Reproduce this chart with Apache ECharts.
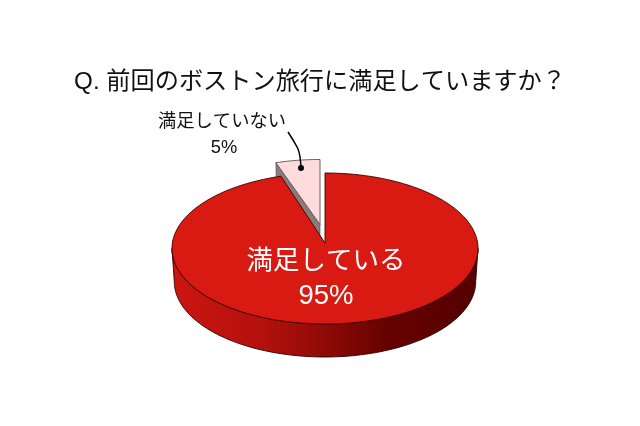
<!DOCTYPE html>
<html><head><meta charset="utf-8">
<style>html,body{margin:0;padding:0;background:#fff}#c{width:640px;height:426px}</style>
<script src="https://cdn.jsdelivr.net/npm/echarts@6/dist/echarts.min.js"></script>
</head><body><div id="c"></div>
<script>
const chartTitle = 'Q. 前回のボストン旅行に満足していますか？';
const sliceNames = ['満足していない', '満足している'];
const sliceValues = [5, 95];
const sliceLabels = ['5%', '95%'];
const topColors = ['#ffdcdc', '#d91a12'];
const edgeColors = ['#5e5050', '#3a0000'];
const cutColors = ['#8a7c7c', '#8a7c7c'];
const sliceOffsets = [[-5, -13.5], [0, 0]];
const apexLifts = [5, 0];
const labelPositions = [[222, 122, 224, 148, 18.3, 18.3, '#111'], [326, 261.5, 326, 296.5, 26.5, 27.5, '#fff']];
const wallStops = [[0, '#cc1610'], [0.3, '#b3110c'], [0.5, '#8f0a06'], [0.7, '#650200'], [1, '#560000']];

const FONT = '"Liberation Sans","Noto Sans CJK JP",sans-serif';
const geo = {cx: 325, cy: 243, A: 152.6, B: 75.1, p: 0.0728, depth: 33, shrink: 0.985};

function rim(deg, off, low) {
  const t = deg * Math.PI / 180, u = Math.sin(t), v = Math.cos(t), w = 1 + geo.p * v;
  let x = geo.A * u / w, y = -geo.B * v / w;
  if (low) { x *= geo.shrink; y += geo.depth; }
  return [geo.cx + x + off[0], geo.cy + y + off[1]];
}
function centre(off, lift, low) {
  return [geo.cx + off[0], geo.cy + off[1] - lift + (low ? geo.depth : 0)];
}
function range(a, b) {
  const out = [], n = Math.max(2, Math.ceil((b - a) / 1.5));
  for (let i = 0; i <= n; i++) out.push(a + (b - a) * i / n);
  return out;
}
const total = sliceValues.reduce((s, v) => s + v, 0);
const front = Math.acos(-geo.p) * 180 / Math.PI;

function renderItem(params, api) {
  const i = params.dataIndex;
  const sweep = api.value(0) / total * 360;
  const start = i === 0 ? 360 - sweep : 0;
  const end = start + sweep;
  const off = sliceOffsets[i], lift = apexLifts[i];
  const kids = [];
  const a = Math.max(start, front), b = Math.min(end, 360 - front);
  if (b > a) {
    const top = range(a, b).map(d => rim(d, off, false));
    const low = range(a, b).reverse().map(d => rim(d, off, true));
    kids.push({type: 'polygon', shape: {points: top.concat(low)},
      style: {stroke: '#2a0000', lineWidth: 0.9,
        fill: new echarts.graphic.LinearGradient(0, 0, 1, 0, wallStops.map(s => ({offset: s[0], color: s[1]})))}});
  }
  if (off[0] || off[1]) {
    kids.push({type: 'polygon', shape: {points: [centre(off, lift), rim(start, off), rim(start, off, true), centre(off, 0, true)]},
      style: {fill: cutColors[i], stroke: '#4a4040', lineWidth: 0.6}});
  }
  const pts = [centre(off, lift)].concat(range(start, end).map(d => rim(d, off, false)));
  kids.push({type: 'polygon', shape: {points: pts},
    style: {fill: topColors[i], stroke: edgeColors[i], lineWidth: 0.9, lineJoin: 'miter'}});
  const lp = labelPositions[i];
  kids.push({type: 'text', z2: 20, style: {x: lp[0], y: lp[1], text: sliceNames[i], fill: lp[6], font: lp[4] + 'px ' + FONT, align: 'center', verticalAlign: 'middle'}});
  kids.push({type: 'text', z2: 20, style: {x: lp[2], y: lp[3], text: sliceLabels[i], fill: lp[6], font: lp[5] + 'px ' + FONT, align: 'center', verticalAlign: 'middle'}});
  return {type: 'group', children: kids};
}

const chart = echarts.init(document.getElementById('c'), null, {renderer: 'canvas'});
chart.setOption({
  animation: false,
  backgroundColor: '#ffffff',
  title: {text: chartTitle, left: 'center', top: 65, textStyle: {fontFamily: FONT, fontSize: 24.2, fontWeight: 'normal', color: '#111'}},
  series: [{
    type: 'custom',
    coordinateSystem: 'none',
    renderItem,
    silent: true,
    data: sliceValues.map(v => [v])
  }],
  graphic: [
    {type: 'polyline', z: 50, shape: {points: [[288, 132], [293, 140], [298, 149], [300, 157], [301, 168]], smooth: 0.3}, style: {fill: 'none', stroke: '#000', lineWidth: 1.5}},
    {type: 'circle', z: 50, shape: {cx: 301, cy: 168, r: 3}, style: {fill: '#000'}}
  ]
});
</script></body></html>
